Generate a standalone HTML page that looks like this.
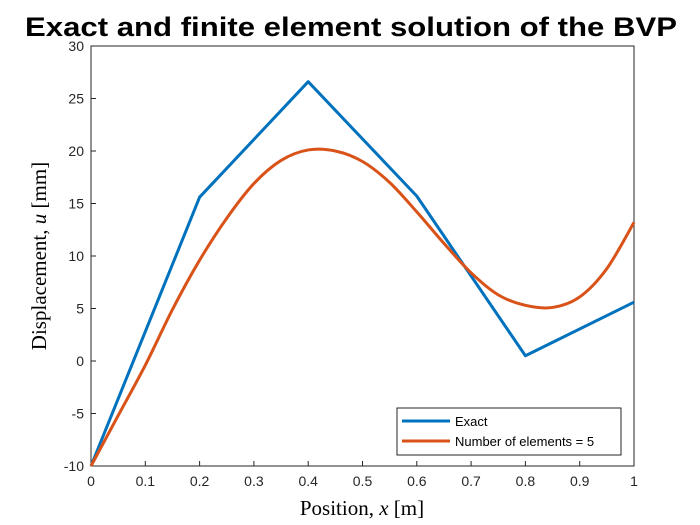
<!DOCTYPE html>
<html><head><meta charset="utf-8"><style>
body{margin:0;background:#fff}
svg{display:block}
text{font-family:"Liberation Sans",sans-serif}
text.serif{font-family:"Liberation Serif",serif}
</style></head><body>
<svg id="chart" width="700" height="525">
<text x="351" y="36" text-anchor="middle" font-size="27" font-weight="bold" fill="#000" textLength="652" lengthAdjust="spacingAndGlyphs">Exact and finite element solution of the BVP</text>
<rect x="91" y="46" width="543" height="420" fill="#fff" stroke="#262626"/>
<g id="xticks"></g>
<g id="yticks"></g>
<g id="series"></g>
<text class="serif" x="362" y="515" text-anchor="middle" font-size="21">Position, <tspan font-style="italic">x</tspan> [m]</text>
<text class="serif" transform="translate(46,256) rotate(-90)" text-anchor="middle" font-size="21">Displacement, <tspan font-style="italic">u</tspan> [mm]</text>
<g>
<rect x="397" y="408" width="224" height="47" fill="#fff" stroke="#262626"/>
<line x1="402" y1="421" x2="450" y2="421" stroke="#0072BD" stroke-width="3"/>
<text x="455" y="426" font-size="13">Exact</text>
<line x1="402" y1="441" x2="450" y2="441" stroke="#D95319" stroke-width="3"/>
<text x="455" y="446" font-size="13">Number of elements = 5</text>
</g>
</svg>
<script>
const xTicks=[0,0.1,0.2,0.3,0.4,0.5,0.6,0.7,0.8,0.9,1];
const yTicks=[-10,-5,0,5,10,15,20,25,30];
const exactX=[0,0.2,0.4,0.6,0.8,1];
const exactY=[-10,15.6,26.6,15.7,0.5,5.6];
const feX=[0,0.05,0.1,0.15,0.2,0.25,0.3,0.35,0.4,0.45,0.5,0.55,0.6,0.65,0.7,0.75,0.8,0.85,0.9,0.95,1];
const feY=[-10,-5.2,-0.4,4.9,9.6,13.6,16.9,19.1,20.1,20.0,19.0,17.0,14.2,11.2,8.4,6.3,5.3,5.1,6.1,8.8,13.2];
const NS="http://www.w3.org/2000/svg";
const sx=v=>91+v*543, sy=v=>466-(v+10)*10.5;
function mk(t,a,p){const e=document.createElementNS(NS,t);for(const k in a)e.setAttribute(k,a[k]);p.appendChild(e);return e;}
const gx=document.getElementById('xticks'),gy=document.getElementById('yticks'),gs=document.getElementById('series');
xTicks.forEach(v=>{
 const l=mk('line',{x1:sx(v),x2:sx(v),y1:466,y2:461,stroke:'#262626'},gx);
 
 
 const t=mk('text',{x:sx(v),y:486,'text-anchor':'middle','font-size':14,fill:'#262626'},gx);t.textContent=v;
 
 
});
yTicks.forEach(v=>{
 const l=mk('line',{x1:91,x2:96,y1:sy(v),y2:sy(v),stroke:'#262626'},gy);
 
 
 const t=mk('text',{x:84,y:sy(v)+5,'text-anchor':'end','font-size':14,fill:'#262626'},gy);t.textContent=v;
 
 
});
const ex=mk('polyline',{points:exactX.map((x,i)=>sx(x)+','+sy(exactY[i])).join(' '),fill:'none',stroke:'#0072BD','stroke-width':3,'stroke-linejoin':'round'},gs);


const P=feX.map((x,i)=>[sx(x),sy(feY[i])]);
let d='M'+P[0].join(',');
for(let i=0;i<P.length-1;i++){const p0=P[Math.max(i-1,0)],p1=P[i],p2=P[i+1],p3=P[Math.min(i+2,P.length-1)];
 d+=` C${p1[0]+(p2[0]-p0[0])/6},${p1[1]+(p2[1]-p0[1])/6} ${p2[0]-(p3[0]-p1[0])/6},${p2[1]-(p3[1]-p1[1])/6} ${p2[0]},${p2[1]}`;}
const fe=mk('path',{d:d,fill:'none',stroke:'#D95319','stroke-width':3},gs);


</script>
</body></html>
